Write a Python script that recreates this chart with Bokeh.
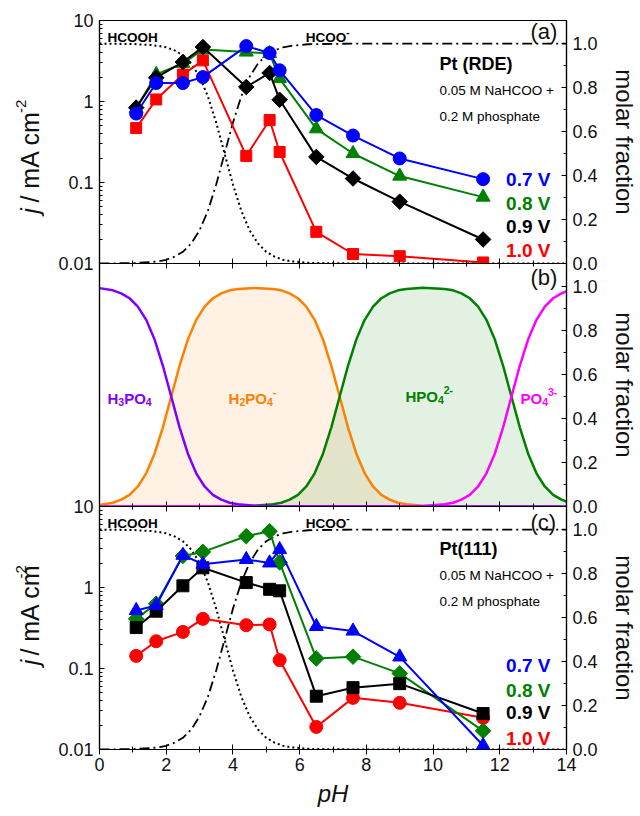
from math import pi
from bokeh.plotting import figure
from bokeh.layouts import column, row
from bokeh.models import (Range1d, LinearAxis, LogAxis, FixedTicker, NumeralTickFormatter,
                          Label, LinearScale)
from bokeh.embed import file_html
from bokeh.resources import INLINE

FONT = "Liberation Sans"

# ---------------- data ----------------
ph = [1.1, 1.7, 2.5, 3.1, 4.4, 5.1, 5.4, 6.5, 7.6, 9.0, 11.5]
voltages = ["0.7 V", "0.8 V", "0.9 V", "1.0 V"]

rde_07 = [0.71, 1.69, 1.69, 2.0, 4.83, 3.96, 2.43, 0.68, 0.38, 0.198, 0.11]
rde_08 = [0.82, 2.16, 2.96, 4.37, 4.08, 3.9, 1.92, 0.46, 0.228, 0.12, 0.066]
rde_09 = [0.84, 1.97, 3.07, 4.7, 1.51, 2.25, 1.05, 0.207, 0.112, 0.058, 0.0198]
rde_10 = [0.47, 1.06, 2.15, 3.22, 0.213, 0.59, 0.238, 0.0246, 0.0131, 0.0123, 0.0103]

pt111_07 = [0.52, 0.60, 2.5, 1.94, 2.22, 2.01, 2.94, 0.33, 0.29, 0.139, 0.0112]
pt111_08 = [0.41, 0.63, 2.45, 2.75, 4.3, 4.95, 2.04, 0.133, 0.14, 0.087, 0.017]
pt111_09 = [0.32, 0.51, 1.05, 1.75, 1.15, 0.95, 0.91, 0.0455, 0.058, 0.065, 0.0278]
pt111_10 = [0.143, 0.217, 0.283, 0.41, 0.343, 0.35, 0.127, 0.019, 0.0434, 0.0377, 0.0246]

# formic acid speciation (molar fraction)
ph_formic = [0, 1.0, 1.5, 1.75, 2.0, 2.25, 2.5, 2.75, 3.0, 3.25, 3.5, 3.75, 4.0, 4.25,
             4.5, 4.75, 5.0, 5.25, 5.5, 5.75, 6.25, 7.0, 8.0, 14.0]
hcooh = [1.0, 0.998, 0.994, 0.990, 0.983, 0.969, 0.947, 0.909, 0.849, 0.760, 0.640, 0.5,
         0.36, 0.24, 0.151, 0.091, 0.053, 0.031, 0.017, 0.010, 0.003, 0.001, 0.0, 0.0]
hcoo = [0.0, 0.002, 0.006, 0.010, 0.017, 0.031, 0.053, 0.091, 0.151, 0.24, 0.36, 0.5,
        0.64, 0.76, 0.849, 0.909, 0.947, 0.969, 0.983, 0.990, 0.997, 0.999, 1.0, 1.0]

# phosphate speciation (molar fraction)
ph_h3po4 = [0, 0.4, 0.65, 0.9, 1.15, 1.4, 1.65, 1.9, 2.15, 2.4, 2.65, 2.9, 3.15, 3.4, 3.65,
            3.9, 4.15, 4.65, 5.2, 7.0, 14.0]
h3po4 = [0.993, 0.983, 0.969, 0.947, 0.909, 0.849, 0.760, 0.640, 0.5, 0.36, 0.24, 0.151,
         0.091, 0.053, 0.031, 0.017, 0.010, 0.003, 0.001, 0.0, 0.0]

ph_h2po4 = [0, 0.4, 0.65, 0.9, 1.15, 1.4, 1.65, 1.9, 2.15, 2.4, 2.65, 2.9, 3.15, 3.4, 3.65,
            3.9, 4.15, 4.65, 5.2, 5.45, 5.7, 5.95, 6.2, 6.45, 6.7, 6.95, 7.2, 7.45, 7.7,
            7.95, 8.2, 8.45, 8.7, 8.95, 9.2, 9.7, 10.35, 14.0]
h2po4 = [0.007, 0.017, 0.031, 0.053, 0.091, 0.151, 0.24, 0.36, 0.5, 0.64, 0.76, 0.849,
         0.909, 0.947, 0.969, 0.983, 0.989, 0.994, 0.989, 0.983, 0.969, 0.947, 0.909,
         0.849, 0.760, 0.640, 0.5, 0.36, 0.24, 0.151, 0.091, 0.053, 0.031, 0.017, 0.010,
         0.003, 0.001, 0.0]

ph_hpo4 = [0, 3.9, 4.15, 4.65, 5.2, 5.45, 5.7, 5.95, 6.2, 6.45, 6.7, 6.95, 7.2, 7.45, 7.7,
           7.95, 8.2, 8.45, 8.7, 8.95, 9.2, 9.7, 10.35, 10.6, 10.85, 11.1, 11.35, 11.6,
           11.85, 12.1, 12.35, 12.6, 12.85, 13.1, 13.35, 13.6, 13.85, 14.0]
hpo4 = [0.0, 0.0, 0.001, 0.003, 0.010, 0.017, 0.031, 0.053, 0.091, 0.151, 0.24, 0.36, 0.5,
        0.64, 0.76, 0.849, 0.909, 0.947, 0.969, 0.983, 0.989, 0.995, 0.989, 0.983, 0.969,
        0.947, 0.909, 0.849, 0.760, 0.640, 0.5, 0.36, 0.24, 0.151, 0.091, 0.053, 0.031,
        0.022]

ph_po4 = [0, 9.7, 10.35, 10.6, 10.85, 11.1, 11.35, 11.6, 11.85, 12.1, 12.35, 12.6, 12.85,
          13.1, 13.35, 13.6, 13.85, 14.0]
po4 = [0.0, 0.002, 0.010, 0.017, 0.031, 0.053, 0.091, 0.151, 0.24, 0.36, 0.5, 0.64, 0.76,
       0.849, 0.909, 0.947, 0.969, 0.978]

x_major = [0, 2, 4, 6, 8, 10, 12, 14]
x_minor = [1, 3, 5, 7, 9, 11, 13]
frac_ticks = [0.0, 0.2, 0.4, 0.6, 0.8, 1.0]
frac_minor = [0.1, 0.3, 0.5, 0.7, 0.9]
log_ticks = [0.01, 0.1, 1, 10]

# ---------------- styling helpers ----------------
BLUE, GREEN, BLACK, RED = "#0000ff", "#008000", "#000000", "#ff0000"
TXT = "#111111"
W = 467
H = 243
TITLE_W = 44
LEFT = 99
EDGE = 10          # border kept at shared panel edges (overlapped by neighbour)
BOTTOM = 64
FRAC_MAX = 1.105

BOLD_W = {"H": .722, "C": .722, "O": .778, "P": .667, "-": .333, "(": .333, ")": .333,
          " ": .278, "t": .333, "R": .722, "D": .722, "E": .667, "V": .667, ".": .278}
REG_W = {"j": .222, " ": .278, "/": .278, "m": .833, "A": .667, "c": .5, "-": .333}


def tw(s, size, bold):
    table = BOLD_W if bold else REG_W
    return sum(table.get(ch, 0.556) for ch in s) * size


def rich(p, x, y, pieces, color, range_name="frac"):
    off = 0.0
    for txt, size, dy, style in pieces:
        p.add_layout(Label(x=x, y=y, x_offset=off, y_offset=dy, y_range_name=range_name,
                           text=txt, text_font=FONT, text_font_size=f"{size}px",
                           text_font_style=style, text_color=color,
                           text_baseline="alphabetic", text_align="left"))
        off += tw(txt, size, "bold" in style)


def tick_axis(p, side, loc):
    # unlabeled x tick marks drawn on a shared panel edge
    for ticks, ln in ((x_major, 5), (x_minor, 3)):
        ax = LinearAxis(ticker=FixedTicker(ticks=[], minor_ticks=ticks), fixed_location=loc)
        ax.minor_tick_in = ln
        ax.minor_tick_out = 0
        ax.major_tick_in = 0
        ax.major_tick_out = 0
        ax.axis_line_width = 1.2
        ax.major_label_standoff = 0
        p.add_layout(ax, side)


def make_fig(log_left, top, bottom, left_border, bottom_labels):
    kw = dict(frame_width=W, frame_height=H, x_range=Range1d(0, 14),
              output_backend="svg", toolbar_location=None,
              min_border_left=left_border, min_border_right=60, min_border_top=top,
              min_border_bottom=bottom, x_axis_location=None, y_axis_location=None,
              background_fill_color="white", border_fill_color="white",
              border_fill_alpha=0.0,
              outline_line_color="black", outline_line_width=1.2)
    if log_left:
        p = figure(y_axis_type="log", y_range=Range1d(0.01, 10), **kw)
    else:
        p = figure(y_range=Range1d(0, FRAC_MAX), **kw)
    p.extra_y_ranges = {"frac": Range1d(0, FRAC_MAX)}
    p.extra_y_scales = {"frac": LinearScale()}
    p.grid.visible = False

    # left axis
    if log_left:
        la = LogAxis(ticker=FixedTicker(ticks=log_ticks,
                     minor_ticks=[m * d for d in (0.01, 0.1, 1) for m in range(2, 10)]),
                     formatter=NumeralTickFormatter(format="0.[00]"))
    else:
        la = LinearAxis(ticker=FixedTicker(ticks=[]))
    la.major_label_text_font = FONT
    la.major_label_text_font_size = "18px"
    la.major_label_text_color = TXT
    la.major_tick_in = 5
    la.major_tick_out = 0
    la.minor_tick_in = 3
    la.minor_tick_out = 0
    la.axis_line_width = 1.2
    la.major_label_standoff = 6
    p.add_layout(la, "left")

    # right axis
    ra = LinearAxis(y_range_name="frac",
                    ticker=FixedTicker(ticks=frac_ticks, minor_ticks=frac_minor),
                    formatter=NumeralTickFormatter(format="0.0"),
                    axis_label="molar fraction")
    ra.major_label_text_font = FONT
    ra.major_label_text_font_size = "18px"
    ra.major_label_text_color = TXT
    ra.axis_label_text_font = FONT
    ra.axis_label_text_font_size = "24px"
    ra.axis_label_text_font_style = "normal"
    ra.axis_label_text_color = TXT
    ra.axis_label_standoff = 10
    ra.major_label_standoff = 6
    ra.major_tick_in = 5
    ra.major_tick_out = 0
    ra.minor_tick_in = 3
    ra.minor_tick_out = 0
    ra.axis_line_width = 1.2
    p.add_layout(ra, "right")

    if bottom_labels:
        ba = LinearAxis(ticker=FixedTicker(ticks=x_major, minor_ticks=x_minor))
        ba.axis_line_width = 1.2
        ba.major_tick_in = 5
        ba.minor_tick_in = 3
        ba.major_tick_out = 5
        ba.minor_tick_out = 3
        ba.major_label_text_font = FONT
        ba.major_label_text_font_size = "18px"
        ba.major_label_text_color = TXT
        ba.major_label_standoff = 3
        ba.axis_label = "pH"
        ba.axis_label_text_font = FONT
        ba.axis_label_text_font_size = "24px"
        ba.axis_label_text_font_style = "italic"
        ba.axis_label_text_color = TXT
        ba.axis_label_standoff = 6
        p.add_layout(ba, "below")
    return p


def title_fig(h, base):
    t = figure(width=TITLE_W, height=h, x_range=Range1d(0, TITLE_W), y_range=Range1d(0, h),
               output_backend="svg", toolbar_location=None, min_border=0,
               x_axis_location=None, y_axis_location=None, outline_line_color=None,
               background_fill_alpha=0.0, border_fill_alpha=0.0)
    t.grid.visible = False
    # rotated composite title: j / mA cm^-2  (x = centre line of each piece)
    pieces = [("j", 25, 29, "italic", tw("j ", 25, False)),
              ("/ mA cm", 25, 29, "normal", tw("/ mA cm", 25, False) + 9),
              ("-2", 15, 20, "normal", 0)]
    off = 0.0
    for txt, size, xc, style, adv in pieces:
        t.add_layout(Label(x=xc, y=base + off, text=txt, angle=pi / 2,
                           text_font=FONT, text_font_size=f"{size}px",
                           text_font_style=style, text_color=TXT,
                           text_baseline="middle", text_align="left"))
        off += adv
    return t


def current_panel(p, series, markers, sizes, angles):
    colors = [BLUE, GREEN, BLACK, RED]
    order = [3, 1, 2, 0]
    for i in order:
        p.line(ph, series[i], line_color=colors[i], line_width=2)
        p.scatter(ph, series[i], marker=markers[i], size=sizes[i], angle=angles[i],
                  fill_color=colors[i], line_color=colors[i])


def formic_curves(p):
    p.line(ph_formic, hcooh, y_range_name="frac", line_color="black", line_width=2,
           line_dash="2 3")
    p.line(ph_formic, hcoo, y_range_name="frac", line_color="black", line_width=1.8,
           line_dash="10 4 2 4")
    rich(p, 0.24, 1.027, [("HCOOH", 13.5, 0, "bold")], "black")
    rich(p, 6.18, 1.027, [("HCOO", 13.5, 0, "bold"), ("-", 10, 6, "bold")], "black")


def side_texts(p, title, ys, legend_ys):
    p.add_layout(Label(x=10.19, y=ys[0], y_range_name="frac", text=title, text_font=FONT,
                       text_font_size="18px", text_font_style="bold", text_color="black",
                       text_baseline="middle"))
    p.add_layout(Label(x=10.19, y=ys[1], y_range_name="frac", text="0.05 M NaHCOO +",
                       text_font=FONT, text_font_size="13.5px", text_color="black",
                       text_baseline="middle"))
    p.add_layout(Label(x=10.19, y=ys[2], y_range_name="frac", text="0.2 M phosphate",
                       text_font=FONT, text_font_size="13.5px", text_color="black",
                       text_baseline="middle"))
    for txt, yy, c in zip(voltages, legend_ys, [BLUE, GREEN, BLACK, RED]):
        p.add_layout(Label(x=13.52, y=yy, y_range_name="frac", text=txt, text_font=FONT,
                           text_font_size="19px", text_font_style="bold", text_color=c,
                           text_align="right", text_baseline="middle"))


def panel_tag(p, txt, y):
    p.add_layout(Label(x=12.92, y=y, y_range_name="frac", text=txt, text_font=FONT,
                       text_font_size="22px", text_color=TXT, text_baseline="middle"))


D = pi / 4
# ---------------- panel (a) ----------------
pa = make_fig(True, 20, EDGE, LEFT - TITLE_W, False)
tick_axis(pa, "below", 0.01)
formic_curves(pa)
current_panel(pa, [rde_07, rde_08, rde_09, rde_10],
              ["circle", "triangle", "square", "square"], [13, 14, 11, 11], [0, 0, D, 0])
side_texts(pa, "Pt (RDE)", [0.909, 0.786, 0.668], [0.380, 0.275, 0.168, 0.059])
panel_tag(pa, "(a)", 1.055)

# ---------------- panel (b) ----------------
pb = make_fig(False, EDGE, EDGE, LEFT, False)
tick_axis(pb, "above", FRAC_MAX)
tick_axis(pb, "below", 0)
pb.varea(ph_h2po4, 0, h2po4, y_range_name="frac", fill_color="#ff8000", fill_alpha=0.11)
pb.varea(ph_hpo4, 0, hpo4, y_range_name="frac", fill_color="#008000", fill_alpha=0.11)
pb.line(ph_h2po4, h2po4, y_range_name="frac", line_color="#ff8000", line_width=2.5)
pb.line(ph_hpo4, hpo4, y_range_name="frac", line_color="#008000", line_width=2.5)
pb.line(ph_po4, po4, y_range_name="frac", line_color="#ff00ff", line_width=2.5)
pb.line(ph_h3po4, h3po4, y_range_name="frac", line_color="#7f00ff", line_width=2.5)
F = 15
S = 10.5
rich(pb, 0.24, 0.49, [("H", F, 0, "bold"), ("3", S, -3, "bold"), ("PO", F, 0, "bold"),
                      ("4", S, -3, "bold")], "#7f00ff")
rich(pb, 3.87, 0.49, [("H", F, 0, "bold"), ("2", S, -3, "bold"), ("PO", F, 0, "bold"),
                      ("4", S, -3, "bold"), ("-", S, 7, "bold")], "#ff8000")
rich(pb, 9.17, 0.50, [("HPO", F, 0, "bold"), ("4", S, -3, "bold"), ("2-", S, 7, "bold")],
     "#008000")
rich(pb, 12.62, 0.49, [("PO", F, 0, "bold"), ("4", S, -3, "bold"), ("3-", S, 7, "bold")],
     "#ff00ff")
panel_tag(pb, "(b)", 1.04)
pb.margin = (-2 * EDGE, 0, 0, 0)

# ---------------- panel (c) ----------------
pc = make_fig(True, EDGE, BOTTOM, LEFT - TITLE_W, True)
tick_axis(pc, "above", 10)
formic_curves(pc)
current_panel(pc, [pt111_07, pt111_08, pt111_09, pt111_10],
              ["triangle", "square", "square", "circle"], [14, 11, 12, 13], [0, D, 0, 0])
side_texts(pc, "Pt(111)", [0.914, 0.791, 0.673], [0.38, 0.27, 0.166, 0.052])
panel_tag(pc, "(c)", 1.03)

row_a = row(title_fig(20 + H + EDGE, EDGE + 46), pa, spacing=0)
row_c = row(title_fig(EDGE + H + BOTTOM, BOTTOM + 46), pc, spacing=0)
row_c.margin = (-2 * EDGE, 0, 0, 0)

layout = column(row_a, pb, row_c, spacing=0)
open("out.html", "w").write(file_html(layout, INLINE))
